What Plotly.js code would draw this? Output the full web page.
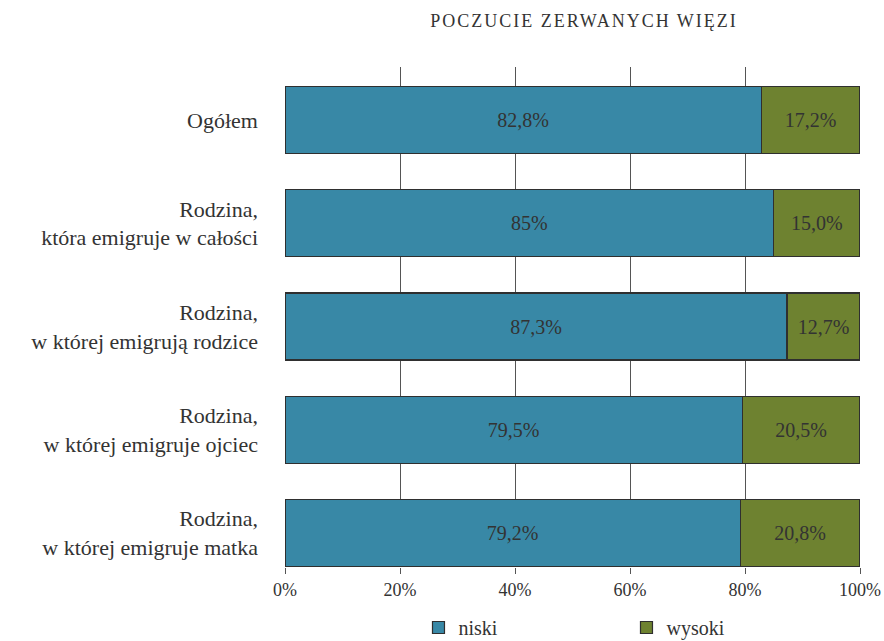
<!DOCTYPE html>
<html>
<head>
<meta charset="utf-8">
<script src="https://cdn.plot.ly/plotly-3.0.1.min.js"></script>
<style>
html,body{margin:0;padding:0;background:#fff;}
#chart{width:884px;height:641px;}
#chart .gtitle{letter-spacing:2px;}
</style>
</head>
<body>
<div id="chart"></div>
<script>
var categories = [
  "Ogółem",
  "Rodzina,<br>która emigruje w całości",
  "Rodzina,<br>w której emigrują rodzice",
  "Rodzina,<br>w której emigruje ojciec",
  "Rodzina,<br>w której emigruje matka"
];
var niski = [82.8, 85, 87.3, 79.5, 79.2];
var wysoki = [17.2, 15.0, 12.7, 20.5, 20.8];
var niskiLabels = ["82,8%", "85%", "87,3%", "79,5%", "79,2%"];
var wysokiLabels = ["17,2%", "15,0%", "12,7%", "20,5%", "20,8%"];
var tickVals = [0, 20, 40, 60, 80, 100];
var tickText = ["0%", "20%", "40%", "60%", "80%", "100%"];

var serif = "Liberation Serif";
var txt = "#333333";

var traces = [
  {
    type: "bar", orientation: "h", name: "niski",
    y: categories, x: niski, text: niskiLabels,
    textposition: "inside", insidetextanchor: "middle", textangle: 0,
    constraintext: "none", hoverinfo: "skip",
    textfont: {family: serif, size: 20, color: txt},
    marker: {color: "#3888a6", line: {color: "#2f2f2f", width: 1.2}}
  },
  {
    type: "bar", orientation: "h", name: "wysoki",
    y: categories, x: wysoki, text: wysokiLabels,
    textposition: "inside", insidetextanchor: "middle", textangle: 0,
    constraintext: "none", hoverinfo: "skip",
    textfont: {family: serif, size: 20, color: txt},
    marker: {color: "#6e8230", line: {color: "#2f2f2f", width: 1.2}}
  }
];

var layout = {
  width: 884, height: 641,
  margin: {l: 285, r: 24, t: 67, b: 74, autoexpand: false},
  paper_bgcolor: "#ffffff", plot_bgcolor: "#ffffff",
  barmode: "stack", bargap: 0.35,
  font: {family: serif, color: txt},
  title: {
    text: "POCZUCIE ZERWANYCH WIĘZI",
    font: {family: serif, size: 18, color: txt},
    x: 0.6606, xanchor: "center", xref: "container",
    y: 1 - 21/641, yanchor: "middle", yref: "container"
  },
  xaxis: {
    range: [0, 100], tickvals: tickVals, ticktext: tickText,
    showgrid: true, gridcolor: "#555555", gridwidth: 1,
    zeroline: false, showline: false,
    ticks: "outside", ticklen: 6, tickcolor: "#555555", tickwidth: 1,
    tickfont: {family: serif, size: 18, color: txt},
    fixedrange: true
  },
  yaxis: {
    type: "category", range: [4.33, -0.515],
    showgrid: false, zeroline: false, showline: false, ticks: "",
    ticklabelstandoff: 26,
    tickfont: {family: serif, size: 22, color: txt},
    fixedrange: true
  },
  legend: {
    orientation: "h", x: 0.4734, xanchor: "left", xref: "container",
    y: -0.082, yanchor: "top", yref: "paper",
    entrywidth: 163, entrywidthmode: "pixels",
    font: {family: serif, size: 20, color: txt},
    traceorder: "normal", itemclick: false
  },
  showlegend: true
};

Plotly.newPlot("chart", traces, layout, {displayModeBar: false, staticPlot: true});
</script>
</body>
</html>
